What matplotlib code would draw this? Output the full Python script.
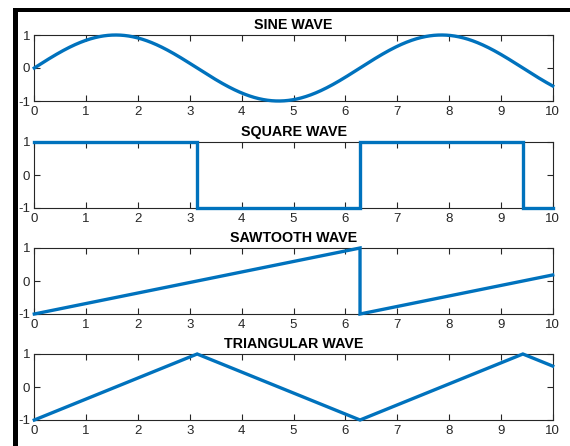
import numpy as np
import matplotlib
matplotlib.use("Agg")
import matplotlib.pyplot as plt
from matplotlib.patches import Rectangle

plt.rcParams['font.family'] = ['Liberation Sans', 'DejaVu Sans']
plt.rcParams['axes.unicode_minus'] = False

titles = ["SINE WAVE", "SQUARE WAVE", "SAWTOOTH WAVE", "TRIANGULAR WAVE"]
PI = np.pi

# Sine wave: the plotted function itself
sine_x = np.linspace(0, 10, 1001)
sine_y = np.sin(sine_x)

# Square wave vertices
square_x = [0, PI, PI, 2 * PI, 2 * PI, 3 * PI, 3 * PI, 10]
square_y = [1, 1, -1, -1, 1, 1, -1, -1]

# Sawtooth wave vertices
saw_x = [0, 2 * PI, 2 * PI, 10]
saw_y = [-1, 1, -1, 0.183]

# Triangular wave vertices
tri_x = [0, PI, 2 * PI, 3 * PI, 10]
tri_y = [-1, 1, -1, 1, 0.634]

series = [(sine_x, sine_y), (square_x, square_y), (saw_x, saw_y), (tri_x, tri_y)]

xticks = list(range(0, 11))
yticks = [-1, 0, 1]

W, H = 570, 446
fig = plt.figure(figsize=(W / 100, H / 100), dpi=100)

# black screenshot frame
fig.add_artist(Rectangle((13 / W, 0), 5 / W, (H - 8) / H, transform=fig.transFigure,
                         facecolor='black', edgecolor='none'))
fig.add_artist(Rectangle((13 / W, (H - 12) / H), (W - 13) / W, 4 / H, transform=fig.transFigure,
                         facecolor='black', edgecolor='none'))

tops = [35, 142, 248, 354]
ax_h = 66
left, right = 34.3, 552.7
color = '#0072BD'

for top, title, (x, y) in zip(tops, titles, series):
    ax = fig.add_axes([left / W, (H - top - ax_h) / H, (right - left) / W, ax_h / H])
    ax.plot(x, y, color=color, lw=2.4, solid_joinstyle='miter', clip_on=False, zorder=3)
    ax.set_xlim(0, 10)
    ax.set_ylim(-1, 1)
    ax.set_xticks(xticks)
    ax.set_yticks(yticks)
    ax.tick_params(direction='in', top=True, right=True, length=4, width=0.8,
                   labelsize=9.5, colors='#262626', pad=3)
    ax.tick_params(axis='x', pad=3.5)
    for s in ax.spines.values():
        s.set_color('#262626')
        s.set_linewidth(0.8)
    ax.set_title(title, fontsize=10.3, fontweight='bold', pad=4, color='black')

fig.savefig("out.png", dpi=100)
